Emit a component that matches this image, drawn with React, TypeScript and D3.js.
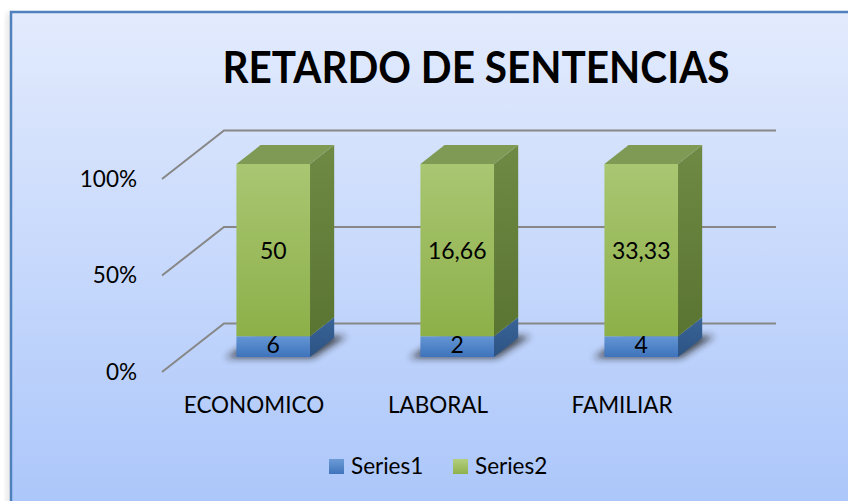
import * as d3 from "d3";
import React, { useRef, useEffect } from "react";

const categories = ["ECONOMICO", "LABORAL", "FAMILIAR"];
const series1 = [6, 2, 4];
const series2 = [50, 16.66, 33.33];
const seriesNames = ["Series1", "Series2"];
const yTicks = [0, 0.5, 1];

const W = 848;
const H = 501;

function App() {
  const ref = useRef<SVGSVGElement>(null);

  useEffect(() => {
    const svg = d3.select(ref.current);
    svg.selectAll("*").remove();

    const font = "Lato, 'Open Sans', sans-serif";
    // depth offsets of the 3d box (floor goes up-right)
    const depthX = 62;
    const depthY = 48.5;
    const zFront = 0.31;
    const zBack = 0.7;

    const x = d3.scaleBand().domain(categories).range([162, 714]).paddingInner(0.6).paddingOuter(0.3);
    const y = d3.scaleLinear().domain([0, 1]).range([372, 179]);
    const proj = (px: number, v: number, z: number): [number, number] => [px + z * depthX, y(v) - z * depthY];

    const rows = categories.map((c, i) => ({ cat: c, Series1: series1[i], Series2: series2[i] }));
    const stacked = d3.stack<any>().keys(seriesNames).offset(d3.stackOffsetExpand)(rows);

    const defs = svg.append("defs");
    const bg = defs.append("linearGradient").attr("id", "bg").attr("x1", 0).attr("y1", 0).attr("x2", 0).attr("y2", 1);
    bg.append("stop").attr("offset", "0%").attr("stop-color", "#e3ebfd");
    bg.append("stop").attr("offset", "100%").attr("stop-color", "#a6c3fa");

    const grad = (id: string, c1: string, c2: string) => {
      const g = defs.append("linearGradient").attr("id", id).attr("x1", 0).attr("y1", 0).attr("x2", 0).attr("y2", 1);
      g.append("stop").attr("offset", "0%").attr("stop-color", c1);
      g.append("stop").attr("offset", "100%").attr("stop-color", c2);
    };
    grad("g2front", "#a9c672", "#8db049");
    grad("g2side", "#6e8a44", "#5a7431");
    grad("g1front", "#6496d4", "#3e73bc");
    grad("g1side", "#3a6597", "#2c5283");
    grad("leg1", "#6c9bd6", "#3f74bc");
    grad("leg2", "#b3cf7e", "#8fb14b");

    const blur = defs.append("filter").attr("id", "blur").attr("x", "-50%").attr("y", "-50%").attr("width", "200%").attr("height", "200%");
    blur.append("feGaussianBlur").attr("stdDeviation", 3.5);

    svg.append("rect").attr("width", W).attr("height", H).attr("fill", "#ffffff");
    // soft shadow of the frame on the left
    svg.append("rect").attr("x", 7).attr("y", 13).attr("width", 6).attr("height", H)
      .attr("fill", "#000").attr("opacity", 0.12).attr("filter", "url(#blur)");
    svg.append("rect")
      .attr("x", 11).attr("y", 12).attr("width", W + 40).attr("height", H + 40)
      .attr("fill", "url(#bg)")
      .attr("stroke", "#4f81bd").attr("stroke-width", 2.5);

    // title
    svg.append("text")
      .attr("x", 476).attr("y", 83)
      .attr("text-anchor", "middle")
      .attr("font-family", font).attr("font-weight", "bold").attr("font-size", 43)
      .attr("textLength", 507).attr("lengthAdjust", "spacingAndGlyphs")
      .attr("fill", "#000")
      .text("RETARDO DE SENTENCIAS");

    // gridlines: back wall + floor diagonals
    const [x0, x1] = x.range();
    const grid = svg.append("g").attr("stroke", "#878787").attr("stroke-width", 2).attr("fill", "none");
    yTicks.forEach((t) => {
      const a = proj(x0, t, 0);
      const b = proj(x0, t, 1);
      const c = proj(x1, t, 1);
      grid.append("path").attr("d", `M${a[0]},${a[1]}L${b[0]},${b[1]}L${c[0]},${c[1]}`);
    });

    // y labels
    const pct = d3.format(".0%");
    svg.append("g").selectAll("text").data(yTicks).enter().append("text")
      .attr("x", 137).attr("y", (d) => y(d) + 2)
      .attr("text-anchor", "end").attr("dominant-baseline", "middle")
      .attr("font-family", font).attr("font-size", 22.5).attr("fill", "#000")
      .text((d) => pct(d));

    // category labels
    svg.append("g").selectAll("text").data(categories).enter().append("text")
      .attr("x", (d) => (x(d) as number) + x.bandwidth() / 2)
      .attr("y", 413)
      .attr("text-anchor", "middle")
      .attr("font-family", font).attr("font-size", 22.5).attr("fill", "#000")
      .text((d) => d);

    const poly = (pts: [number, number][]) => "M" + pts.map((p) => p.join(",")).join("L") + "Z";
    const bw = x.bandwidth();

    // shadows under bars
    categories.forEach((c) => {
      const bx = x(c) as number;
      const pad = 10;
      svg.append("path")
        .attr("d", poly([
          proj(bx - pad, 0, zFront - 0.02),
          proj(bx + bw + 4, 0, zFront - 0.02),
          proj(bx + bw + pad, 0, zBack + 0.04),
          proj(bx - 4, 0, zBack + 0.04),
        ]))
        .attr("fill", "#1a1a1a").attr("opacity", 0.75).attr("filter", "url(#blur)");
    });

    // bars
    const fronts = ["url(#g1front)", "url(#g2front)"];
    const sides = ["url(#g1side)", "url(#g2side)"];
    const bars = svg.append("g");
    categories.forEach((c, i) => {
      const bx = x(c) as number;
      stacked.forEach((s, si) => {
        const [v0, v1] = s[i];
        const g = bars.append("g");
        g.append("path").attr("d", poly([
          proj(bx + bw, v0, zFront), proj(bx + bw, v1, zFront), proj(bx + bw, v1, zBack), proj(bx + bw, v0, zBack),
        ])).attr("fill", sides[si]);
        g.append("path").attr("d", poly([
          proj(bx, v0, zFront), proj(bx + bw, v0, zFront), proj(bx + bw, v1, zFront), proj(bx, v1, zFront),
        ])).attr("fill", fronts[si]);
        if (si === stacked.length - 1) {
          g.append("path").attr("d", poly([
            proj(bx, v1, zFront), proj(bx + bw, v1, zFront), proj(bx + bw, v1, zBack), proj(bx, v1, zBack),
          ])).attr("fill", "#7f9a55");
        }
      });
    });

    // data labels
    const locale = d3.formatLocale({ decimal: ",", thousands: ".", grouping: [3], currency: ["", ""] });
    const num = locale.format("~g");
    const labels = svg.append("g");
    categories.forEach((c, i) => {
      const bx = x(c) as number;
      stacked.forEach((s, si) => {
        const [v0, v1] = s[i];
        const p = proj(bx + bw / 2, (v0 + v1) / 2, zFront);
        labels.append("text")
          .attr("x", p[0]).attr("y", p[1] + (si === 0 ? 1 : 3))
          .attr("text-anchor", "middle").attr("dominant-baseline", "middle")
          .attr("font-family", font).attr("font-size", 23).attr("fill", "#000")
          .text(num(s[i].data[s.key]));
      });
    });

    // legend
    const legend = svg.append("g");
    const legX = [329, 453];
    seriesNames.forEach((n, i) => {
      legend.append("rect").attr("x", legX[i]).attr("y", 459).attr("width", 15).attr("height", 15)
        .attr("fill", i === 0 ? "url(#leg1)" : "url(#leg2)");
      legend.append("text").attr("x", legX[i] + 22).attr("y", 474)
        .attr("font-family", font).attr("font-size", 22.5).attr("fill", "#000")
        .text(n);
    });
  }, []);

  return (
    <div className="chart">
      <svg ref={ref} width={W} height={H} style={{ position: "absolute", left: 0, top: 0 }}></svg>
    </div>
  );
}

export default App;
